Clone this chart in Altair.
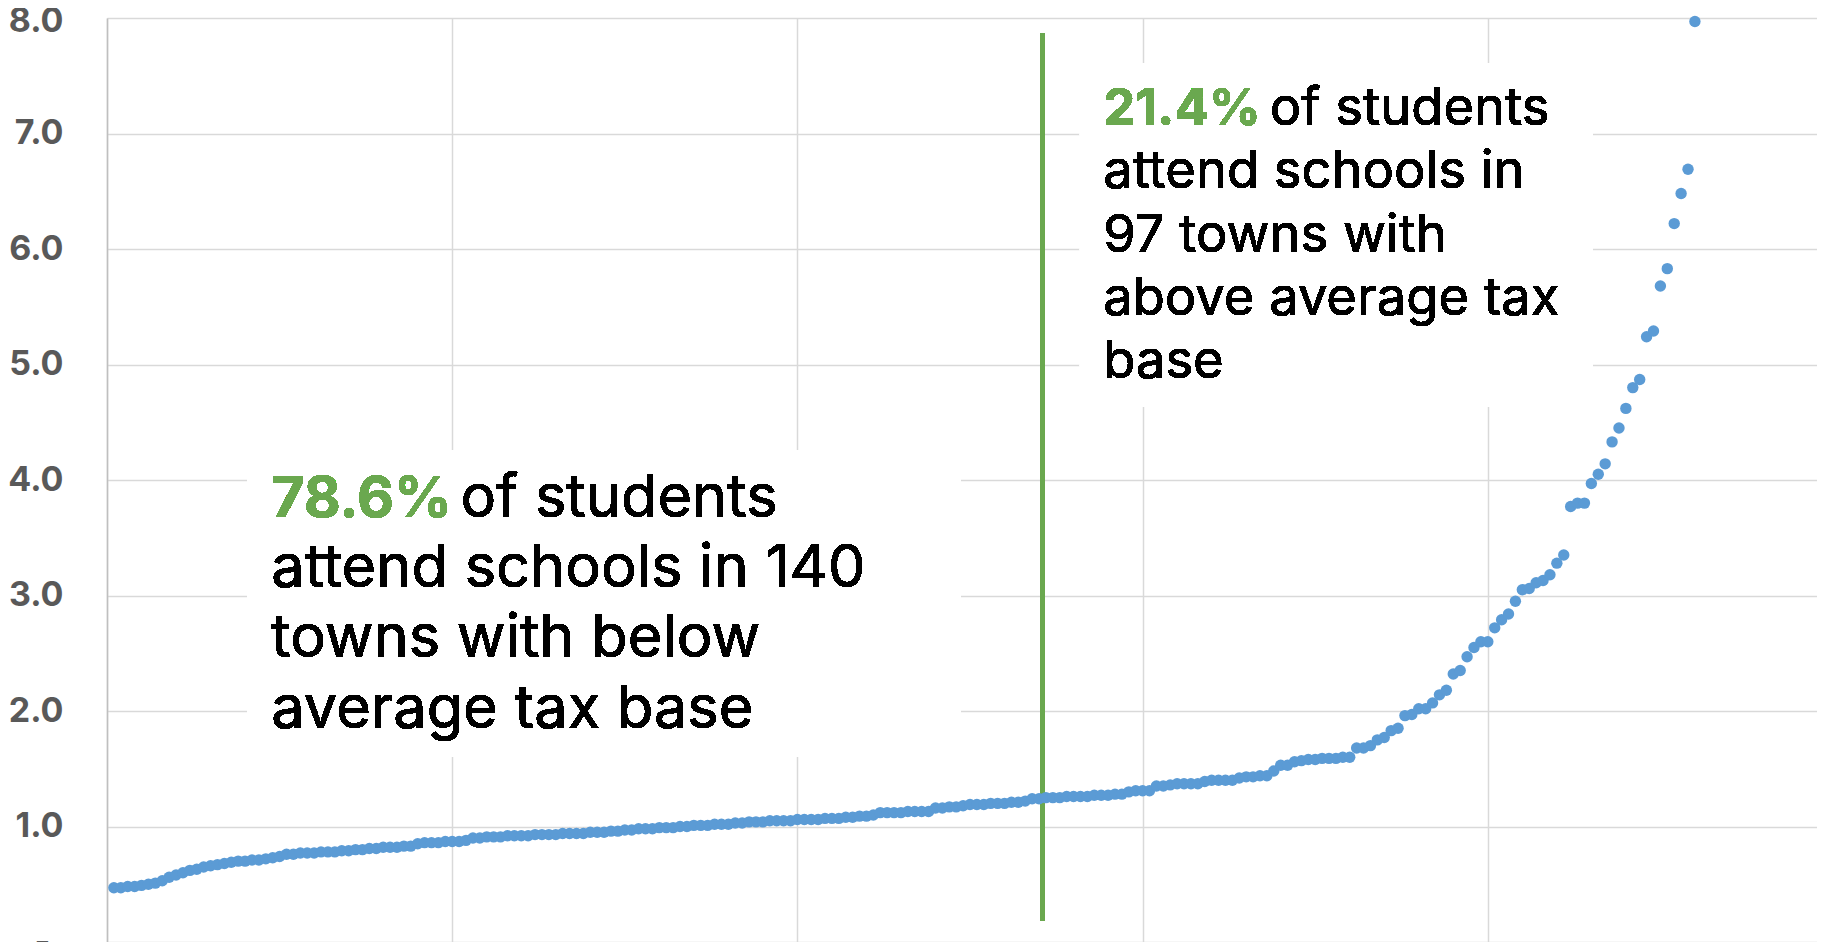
import altair as alt
import pandas as pd

# Ratio values, towns sorted ascending (rank 1..230)
ratio = [
    0.47, 0.47, 0.48, 0.48, 0.49, 0.50, 0.51, 0.53, 0.56, 0.58,
    0.60, 0.62, 0.63, 0.65, 0.66, 0.67, 0.68, 0.69, 0.70, 0.70,
    0.71, 0.71, 0.72, 0.73, 0.74, 0.76, 0.76, 0.77, 0.77, 0.77,
    0.78, 0.78, 0.78, 0.79, 0.79, 0.80, 0.80, 0.81, 0.81, 0.82,
    0.82, 0.82, 0.83, 0.83, 0.85, 0.86, 0.86, 0.86, 0.87, 0.87,
    0.87, 0.88, 0.90, 0.90, 0.91, 0.91, 0.91, 0.92, 0.92, 0.92,
    0.92, 0.93, 0.93, 0.93, 0.93, 0.94, 0.94, 0.94, 0.94, 0.95,
    0.95, 0.95, 0.96, 0.96, 0.97, 0.97, 0.98, 0.98, 0.98, 0.99,
    0.99, 0.99, 1.00, 1.00, 1.01, 1.01, 1.01, 1.02, 1.02, 1.02,
    1.03, 1.03, 1.04, 1.04, 1.04, 1.05, 1.05, 1.05, 1.05, 1.06,
    1.06, 1.06, 1.06, 1.07, 1.07, 1.07, 1.08, 1.08, 1.09, 1.09,
    1.10, 1.12, 1.12, 1.12, 1.12, 1.13, 1.13, 1.13, 1.13, 1.16,
    1.16, 1.17, 1.17, 1.18, 1.19, 1.19, 1.19, 1.20, 1.20, 1.20,
    1.21, 1.21, 1.22, 1.24, 1.24, 1.25, 1.25, 1.25, 1.26, 1.26,
    1.26, 1.26, 1.27, 1.27, 1.27, 1.28, 1.28, 1.30, 1.31, 1.31,
    1.31, 1.35, 1.35, 1.36, 1.37, 1.37, 1.37, 1.37, 1.39, 1.40,
    1.40, 1.40, 1.40, 1.42, 1.43, 1.43, 1.44, 1.44, 1.48, 1.53,
    1.53, 1.56, 1.57, 1.58, 1.58, 1.59, 1.59, 1.59, 1.60, 1.60,
    1.68, 1.68, 1.70, 1.75, 1.77, 1.83, 1.85, 1.96, 1.97, 2.02,
    2.02, 2.07, 2.14, 2.18, 2.32, 2.35, 2.47, 2.55, 2.60, 2.60,
    2.72, 2.79, 2.84, 2.95, 3.05, 3.06, 3.11, 3.13, 3.18, 3.28,
    3.35, 3.77, 3.80, 3.80, 3.97, 4.05, 4.14, 4.33, 4.45, 4.62,
    4.80, 4.87, 5.24, 5.29, 5.68, 5.83, 6.22, 6.48, 6.69, 7.97,
]
rank = list(range(1, len(ratio) + 1))

x_grid = [0, 50, 100, 150, 200, 250]
y_ticks = [0, 1, 2, 3, 4, 5, 6, 7, 8]

left_pct = "78.6%"
left_first = "of students"
left_lines = ["attend schools in 140", "towns with below", "average tax base"]
right_pct = "21.4%"
right_first = "of students"
right_lines = ["attend schools in", "97 towns with", "above average tax", "base"]
divider_rank = 135.5

BLUE = "#5B9BD5"
GREEN = "#6AA84F"
FONT = "Inter"

df = pd.DataFrame({"rank": rank, "ratio": ratio})

PX_PER_RANK = 6.904
W, H = 1710, 924
x_scale = alt.Scale(domain=[0, W / PX_PER_RANK], nice=False, zero=False)
y_scale = alt.Scale(domain=[0, 8], nice=False)

points = alt.Chart(df).mark_circle(size=130, color=BLUE, opacity=1).encode(
    x=alt.X("rank:Q", scale=x_scale,
            axis=alt.Axis(values=x_grid, labels=False, ticks=False, domain=False,
                          grid=True, title=None)),
    y=alt.Y("ratio:Q", scale=y_scale,
            axis=alt.Axis(values=y_ticks, title=None, ticks=False, grid=True,
                          domain=True, domainColor="#BFBFBF", domainWidth=1.5,
                          labelExpr="datum.value == 0 ? '-' : format(datum.value, '.1f')",
                          labelFont=FONT, labelFontSize=34, labelFontWeight="bold",
                          labelColor="#595959",
                          labelPadding={"condition": {"test": "datum.value == 0", "value": 57}, "value": 44},
                          labelOffset={"condition": {"test": "datum.value == 8", "value": 3}, "value": 0})),
)

def box(x1, x2, y1, y2):
    return alt.Chart(df).mark_rect(color="white", opacity=1).encode(
        x=alt.datum(x1, scale=x_scale), x2=alt.datum(x2),
        y=alt.datum(y1, scale=y_scale), y2=alt.datum(y2),
    )

def txt(x, y, text, size, lh, color="black", weight="normal"):
    return alt.Chart(df).mark_text(
        text=text, align="left", baseline="alphabetic", font=FONT,
        fontSize=size, lineHeight=lh, color=color, fontWeight=weight,
    ).encode(x=alt.datum(x, scale=x_scale), y=alt.datum(y, scale=y_scale))

left_box = box(20.3, 123.7, 4.259, 1.602)
right_box = box(140.9, 215.2, 7.608, 4.634)

divider = alt.Chart(df).mark_rule(color=GREEN, strokeWidth=4).encode(
    x=alt.datum(divider_rank, scale=x_scale),
    y=alt.datum(7.868, scale=y_scale), y2=alt.datum(0.182),
)

texts = [
    txt(23.8, 3.681, left_pct, 57, 70.5, GREEN, "bold"),
    txt(51.2, 3.681, left_first, 59.5, 70.5),
    txt(23.8, 3.075, left_lines, 59.5, 70.5),
    txt(144.3, 7.073, right_pct, 51, 63.3, GREEN, "bold"),
    txt(168.4, 7.073, right_first, 52.5, 63.3),
    txt(144.3, 6.525, right_lines, 52.5, 63.3),
]

chart = alt.layer(left_box, right_box, divider, points, *texts).properties(
    width=W, height=H,
    autosize=alt.AutoSizeParams(type="none"),
    padding={"left": 99, "top": 10, "right": 0, "bottom": 0},
).configure_axis(
    gridColor="#D9D9D9", gridWidth=1.5,
).configure_view(stroke=None)

chart.save("out.html", embed_options={"renderer": "svg", "actions": False})
